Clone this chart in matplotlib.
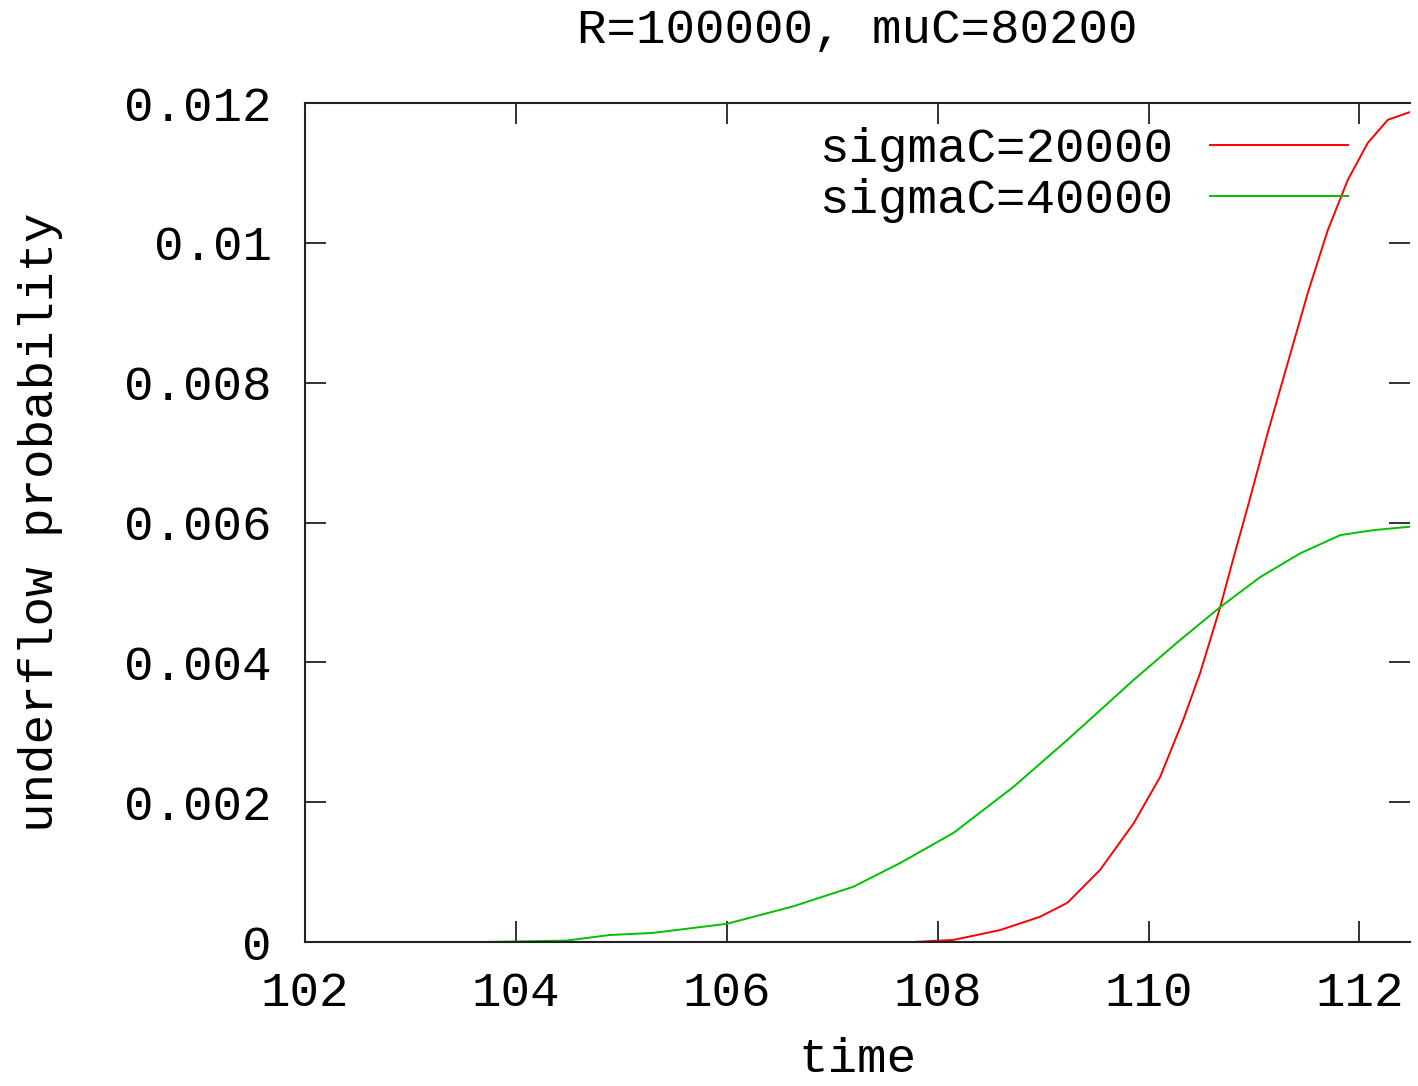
import numpy as np
import matplotlib
matplotlib.use("Agg")
import matplotlib.pyplot as plt

# values
t_20k = [107.77, 108.15, 108.59, 108.97, 109.23, 109.54, 109.86, 110.11, 110.33,
         110.49, 110.68, 110.80, 110.94, 111.13, 111.32, 111.51, 111.70, 111.89,
         112.08, 112.27, 112.48]
p_20k = [0.0, 0.00003, 0.00017, 0.00036, 0.00056, 0.00103, 0.0017, 0.00236, 0.00318,
         0.00385, 0.00479, 0.00546, 0.00622, 0.00728, 0.00828, 0.00928, 0.01018, 0.0109,
         0.01143, 0.01176, 0.01187]

t_40k = [103.68, 104.48, 104.89, 105.30, 106.0, 106.63, 107.2, 107.645, 108.15, 108.72,
         109.23, 109.86, 110.30, 110.68, 111.06, 111.44, 111.82, 112.13, 112.48]
p_40k = [0.0, 0.00002, 0.0001, 0.00013, 0.00026, 0.00051, 0.00079, 0.00113, 0.00156,
         0.00222, 0.00289, 0.00375, 0.00432, 0.00479, 0.00522, 0.00556, 0.00582,
         0.00589, 0.00594]

xticks = [102, 104, 106, 108, 110, 112]
yticks = [0, 0.002, 0.004, 0.006, 0.008, 0.01, 0.012]
ytick_labels = ["0", "0.002", "0.004", "0.006", "0.008", "0.01", "0.012"]

plt.rcParams['font.family'] = ['Liberation Mono', 'DejaVu Sans Mono']
fs = 35.5

fig = plt.figure(figsize=(14.18, 10.86), dpi=100)
ax = fig.add_axes([305/1418, 1 - 942/1086, (1410-305)/1418, (942-103)/1086])

ax.plot(t_20k, p_20k, color='#ff0000', lw=1.4, label='sigmaC=20000')
ax.plot(t_40k, p_40k, color='#00c000', lw=1.4, label='sigmaC=40000')

ax.set_xlim(102, 112.48)
ax.set_ylim(0, 0.012)
ax.set_xticks(xticks)
ax.set_xticklabels([str(v) for v in xticks])
ax.set_yticks(yticks)
ax.set_yticklabels(ytick_labels)

ax.tick_params(direction='in', length=15, width=1.3, labelsize=fs,
               top=True, right=True, color='#222222')
ax.tick_params(axis='x', pad=21)
ax.tick_params(axis='y', pad=24)
for s in ['left', 'bottom', 'top']:
    ax.spines[s].set_linewidth(1.5)
    ax.spines[s].set_color('#222222')
ax.spines['right'].set_visible(False)

ax.set_xlabel('time', fontsize=fs, labelpad=15)
ax.set_ylabel('underflow probability', fontsize=fs, labelpad=44)
fig.text(857/1418, 1 - 30/1086, 'R=100000, muC=80200', fontsize=fs,
         ha='center', va='center')

leg = ax.legend(loc='upper right', bbox_to_anchor=(0.975, 1.012), frameon=False,
                markerfirst=False, fontsize=fs, handlelength=2.8,
                handletextpad=0.75, labelspacing=0.12, borderpad=0.2)

fig.savefig('out.png', dpi=100)
